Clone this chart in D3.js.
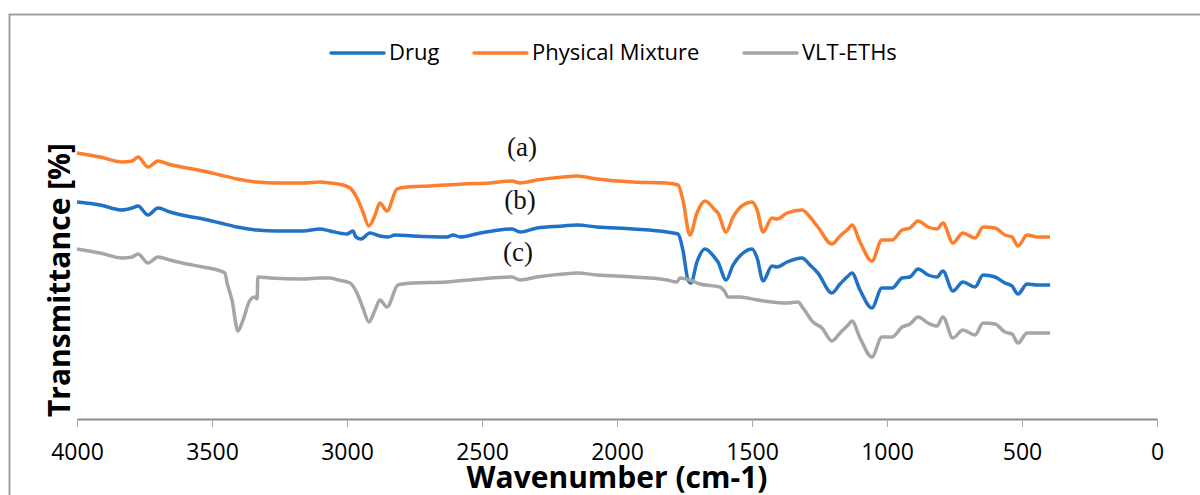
<!DOCTYPE html>
<html>
<head>
<meta charset="utf-8">
<script src="https://cdn.jsdelivr.net/npm/d3@7.9.0/dist/d3.min.js"></script>
<style>
  body { margin: 0; background: #fff; }
  svg { display: block; font-family: 'Open Sans', sans-serif; }
</style>
</head>
<body>
<svg width="1200" height="495"></svg>
<script>
// wavenumber (cm-1) and transmittance readings for each sample
const drugWn = [4000, 3915, 3833, 3796, 3774, 3737, 3700, 3656, 3593, 3533, 3470, 3407, 3333, 3259, 3163, 3100, 3063,
  3000, 2978, 2967, 2948, 2915, 2878, 2848, 2822, 2756, 2630, 2607, 2581, 2507, 2389, 2359, 2296, 2200, 2148, 2074,
  1941, 1815, 1774, 1756, 1737, 1726, 1704, 1674, 1637, 1626, 1596, 1570, 1533, 1500, 1481, 1459, 1426, 1407, 1370,
  1315, 1285, 1256, 1204, 1174, 1144, 1130, 1100, 1056, 1019, 981, 944, 915, 885, 848, 815, 793, 756, 719, 674, 644,
  600, 563, 537, 515, 481, 444, 396];
const drugT = [54.25, 53.5, 52.25, 52.75, 53.25, 51, 52.75, 51.75, 50.75, 50, 49, 48, 47.25, 47, 47, 47.5, 47,
  46.25, 47, 45.5, 45, 46.5, 45.75, 45.5, 46, 45.75, 45.5, 46, 45.5, 46.5, 47.5, 46.75, 47.75, 48.25, 48.5, 48,
  47.5, 46.75, 46.25, 42.25, 34.75, 34, 39.25, 42.5, 40.25, 39.25, 34.75, 38.5, 41.5, 42.5, 40.25, 34.5, 38.25, 38, 39.25,
  40.25, 38.5, 36.5, 31.5, 33.75, 35.75, 36.5, 32.25, 27.75, 32.75, 32.75, 35.25, 35.5, 37.5, 36, 35.5, 37, 32, 34.25, 33, 36,
  35.5, 34, 33.25, 31.25, 33.75, 33.5, 33.5];

const mixWn = [4000, 3915, 3833, 3796, 3774, 3737, 3700, 3663, 3593, 3533, 3470, 3407, 3333, 3259, 3163, 3100, 3063,
  3033, 2989, 2963, 2941, 2919, 2896, 2878, 2852, 2815, 2778, 2693, 2570, 2470, 2389, 2359, 2296, 2200, 2148, 2074,
  1941, 1815, 1774, 1756, 1730, 1704, 1674, 1637, 1626, 1596, 1570, 1533, 1500, 1481, 1459, 1426, 1407, 1370,
  1315, 1285, 1256, 1204, 1174, 1144, 1130, 1100, 1056, 1019, 981, 944, 915, 885, 848, 815, 793, 756, 719, 674, 644,
  600, 563, 537, 515, 481, 444, 396];
const mixT = [66.5, 65.5, 64.25, 64.5, 65.5, 63, 64.5, 63.75, 62.75, 62, 61, 60, 59.25, 59, 59, 59.25, 59,
  58.75, 57.75, 55.25, 51.75, 48.25, 51, 54, 52, 57.5, 58, 58.25, 58.75, 59, 59.5, 59, 59.75, 60.5, 60.75, 60,
  59.25, 59, 58.5, 54.75, 46, 51.5, 54.5, 52.25, 51.5, 46.75, 50.5, 53.5, 54.25, 52.25, 46.75, 50.25, 50, 51.5,
  52.25, 50.5, 48, 43.75, 45.75, 47.5, 48.5, 44.25, 39.5, 44.75, 44.75, 47.25, 47.75, 49.5, 48, 47.5, 49, 44, 46.5, 45.25, 48,
  47.75, 46, 45.5, 43.25, 46, 45.5, 45.5];

const ethWn = [4000, 3915, 3833, 3796, 3774, 3737, 3700, 3656, 3593, 3533, 3452, 3444, 3426, 3404, 3385, 3359, 3341,
  3333, 3330, 3285, 3163, 3100, 3063, 3033, 2989, 2963, 2941, 2919, 2896, 2878, 2852, 2811, 2756, 2630, 2507, 2389,
  2359, 2296, 2200, 2148, 2074, 1941, 1815, 1778, 1767, 1730, 1693, 1619, 1600, 1589, 1544, 1481, 1370, 1330, 1311,
  1274, 1241, 1204, 1174, 1144, 1130, 1100, 1056, 1019, 981, 944, 915, 885, 848, 815, 793, 756, 719, 674, 644,
  600, 563, 537, 515, 481, 444, 396];
const ethT = [42.5, 41.5, 40.25, 40.5, 41.25, 39, 40.5, 39.75, 38.75, 38, 36.5, 34, 29.75, 22, 24.75, 29.75, 30.5,
  30, 35.5, 35.25, 35, 35.25, 35.25, 34.75, 34, 31.5, 27.75, 24.25, 27.25, 29.75, 28, 33.5, 34, 34.25, 35, 35.5,
  34.75, 35.5, 36.25, 36.5, 36, 35.5, 34.75, 34.25, 35.25, 34.75, 33.75, 33, 31.75, 30.5, 30.5, 29.75, 29, 29.25, 27.75,
  24.25, 22.75, 19.5, 21.5, 23.5, 24.5, 20.25, 15.5, 20.5, 20.5, 23, 23.75, 25.5, 24, 23.25, 25.5, 20.25, 22.25, 21, 24,
  23.75, 21.75, 21.25, 19, 21.5, 21.5, 21.5];

const seriesNames = ['Drug', 'Physical Mixture', 'VLT-ETHs'];
const seriesColors = ['#1f72c6', '#fd7f2c', '#a6a6a6'];
const xTicks = [4000, 3500, 3000, 2500, 2000, 1500, 1000, 500, 0];
const labels = ['(a)', '(b)', '(c)'];

const series = [
  { name: seriesNames[0], color: seriesColors[0], pts: drugWn.map((w, i) => [w, drugT[i]]) },
  { name: seriesNames[1], color: seriesColors[1], pts: mixWn.map((w, i) => [w, mixT[i]]) },
  { name: seriesNames[2], color: seriesColors[2], pts: ethWn.map((w, i) => [w, ethT[i]]) }
];

const svg = d3.select('svg');

// outer frame (only top and left edges show)
svg.append('path')
  .attr('d', 'M9.5,495 V14.5 H1200')
  .attr('fill', 'none')
  .attr('stroke', '#a0a0a0')
  .attr('stroke-width', 2);

const x = d3.scaleLinear().domain([4000, 0]).range([77, 1157]);
const y = d3.scaleLinear().domain([0, 100]).range([419, 19]);

// x axis
const xAxis = svg.append('g')
  .attr('transform', 'translate(0,419)')
  .call(d3.axisBottom(x).tickValues(xTicks).tickSize(8).tickSizeOuter(0).tickPadding(17).tickFormat(d3.format('d')));
xAxis.select('.domain').attr('stroke', '#8c8c8c').attr('stroke-width', 2);
xAxis.selectAll('.tick line').attr('stroke', '#a6a6a6').attr('stroke-width', 1);
xAxis.selectAll('.tick text').attr('font-size', 23).attr('fill', '#000')
  .attr('font-family', "'Open Sans', sans-serif");

// lines
const line = d3.line()
  .x(d => x(d[0]))
  .y(d => y(d[1]))
  .curve(d3.curveMonotoneX);

svg.selectAll('.spec')
  .data(series)
  .join('path')
  .attr('class', 'spec')
  .attr('d', d => line(d.pts))
  .attr('fill', 'none')
  .attr('stroke', d => d.color)
  .attr('stroke-width', 3.5)
  .attr('stroke-linejoin', 'round');

// sample labels
const labelY = [150, 203, 255];
labels.forEach((t, i) => {
  svg.append('text')
    .attr('x', 522 - i * 2)
    .attr('y', labelY[i])
    .attr('text-anchor', 'middle')
    .attr('dominant-baseline', 'middle')
    .attr('font-family', "'Liberation Serif', serif")
    .attr('font-size', 27)
    .attr('fill', '#111')
    .text(t);
});

// legend
const legendX = [331, 474, 744];
series.forEach((s, i) => {
  const g = svg.append('g').attr('transform', `translate(${legendX[i]},53)`);
  g.append('line')
    .attr('x1', 0).attr('x2', 53)
    .attr('stroke', s.color)
    .attr('stroke-width', 3.5)
    .attr('stroke-linecap', 'round');
  g.append('text')
    .attr('x', 58)
    .attr('y', 1)
    .attr('dominant-baseline', 'middle')
    .attr('font-size', 22)
    .attr('fill', '#000')
    .text(s.name);
});

// axis titles
svg.append('text')
  .attr('transform', 'translate(62,280) rotate(-90)')
  .attr('text-anchor', 'middle')
  .attr('dominant-baseline', 'middle')
  .attr('font-size', 30)
  .attr('font-weight', 'bold')
  .text('Transmittance [%]');

svg.append('text')
  .attr('x', 617)
  .attr('y', 480)
  .attr('text-anchor', 'middle')
  .attr('dominant-baseline', 'middle')
  .attr('font-size', 30)
  .attr('font-weight', 'bold')
  .text('Wavenumber (cm-1)');
</script>
</body>
</html>
